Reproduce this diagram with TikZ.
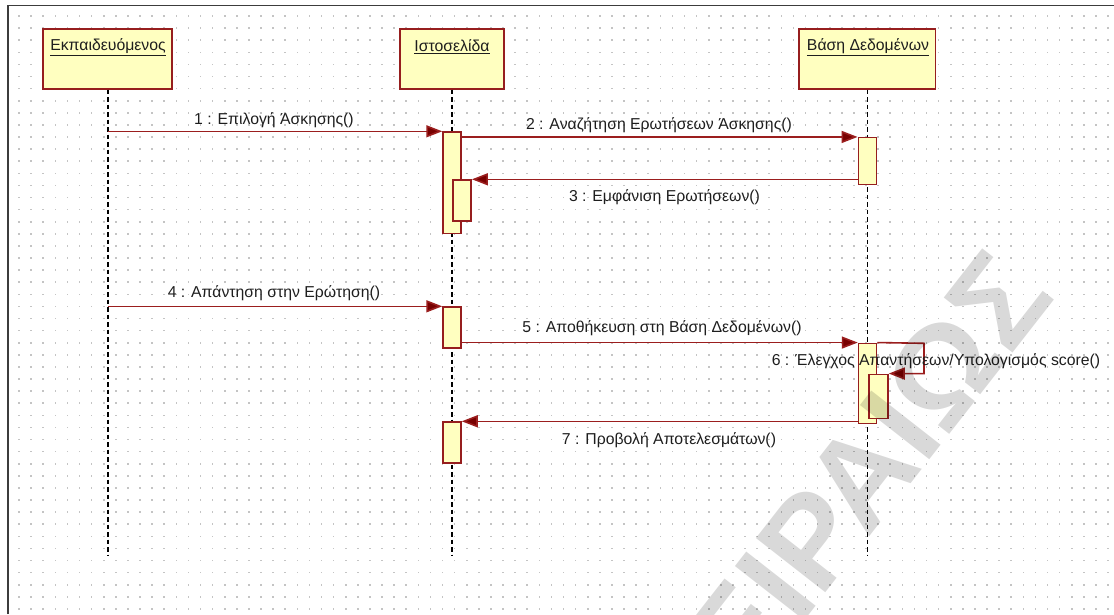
\documentclass[tikz,border=0pt]{standalone}
\usepackage{fontspec}
\setmainfont{Liberation Sans}
\usetikzlibrary{arrows.meta}
\definecolor{boxfill}{RGB}{255,255,192}
\definecolor{boxline}{RGB}{150,30,30}
\definecolor{msgline}{RGB}{155,30,30}
\definecolor{tipcol}{RGB}{120,0,0}
\definecolor{dotcol}{RGB}{196,196,196}
\definecolor{txt}{RGB}{30,30,30}
\definecolor{framecol}{RGB}{60,60,60}
\begin{document}
\begin{tikzpicture}[x=1pt,y=-1pt,
 header/.style={draw=boxline, fill=boxfill, line width=1.7pt, minimum height=59.7pt, inner sep=0pt},
 act/.style={draw=boxline, fill=boxfill, line width=1.5pt, minimum width=18pt, inner sep=0pt},
 lifeline/.style={black, line width=1.3pt, dash pattern=on 4.5pt off 3pt},
 msg/.style={draw=msgline, line width=1.6pt, -{Triangle[length=16pt,width=12pt,fill=tipcol]}},
 lbl/.style={font=\fontsize{15.8}{18}\selectfont, text=txt, inner sep=0pt},
]
\useasboundingbox (0,0) rectangle (1114,614);
\fill[white] (0,0) rectangle (1114,614);
% dot grid
\foreach \i in {0,...,90}{
  \foreach \j in {0,...,49}{
    \fill[dotcol] (18.2+12.1*\i,15.2+12.1*\j) rectangle ++(1.6,1.6);
  }
}
% frame
\draw[framecol, line width=1.8pt] (8,614) -- (8,5.5) -- (1114,5.5);

% header boxes
\node[header, minimum width=129pt] (boxE) at (107.5,58.9) {};
\node[header, minimum width=103.6pt] (boxI) at (452,58.9) {};
\node[header, minimum width=136.3pt] (boxB) at (867.2,58.9) {};
\node[lbl] (tE) at (108,47) {\underline{Εκπαιδευόμενος}};
\node[lbl] (tI) at (452,47) {\underline{Ιστοσελίδα}};
\node[lbl] (tB) at (868,47) {\underline{Βάση Δεδομένων}};

% lifelines
\coordinate (lE) at (108,555);
\coordinate (lI) at (452,555);
\coordinate (lB) at (867.5,555);
\draw[lifeline] (boxE.south -| lE) -- (lE);
\draw[lifeline] (boxI.south -| lI) -- (lI);
\draw[lifeline] (boxB.south -| lB) -- (lB);

% activations
\node[act, minimum height=101.3pt] (A1) at (452,182.7) {};
\node[act, minimum height=40.7pt] (A1b) at (462.2,200.4) {};
\node[act, minimum height=46.6pt] (D1) at (867.3,161) {};
\node[act, minimum height=40.7pt] (A2) at (452,327.4) {};
\node[act, minimum height=80pt] (D2) at (867.5,383.3) {};
\node[act, minimum height=44pt, minimum width=19pt] (D2b) at (878.5,396.3) {};
\node[act, minimum height=40.7pt] (A3) at (452,442.4) {};

% messages
\draw[msg] (lE |- A1.north) -- (A1.north west);
\draw[msg] (A1.east |- D1.north) -- (D1.north west);
\draw[msg] (D1.west |- A1b.north) -- (A1b.north east);
\draw[msg] (lE |- A2.north) -- (A2.north west);
\draw[msg] (A2.east |- D2.north) -- (D2.north west);
\coordinate (c6) at (924,343.3);
\draw[msg] (D2.north east) -- (c6) |- (D2b.north east);
\draw[msg] (D2.west |- A3.north) -- (A3.north east);

% labels
\node[lbl] (m1) at (274,120) {1 : Επιλογή Άσκησης()};
\node[lbl] (m2) at (659,125) {2 : Αναζήτηση Ερωτήσεων Άσκησης()};
\node[lbl] (m3) at (664.5,197.3) {3 : Εμφάνιση Ερωτήσεων()};
\node[lbl] (m4) at (274,293.5) {4 : Απάντηση στην Ερώτηση()};
\node[lbl] (m5) at (662,328) {5 : Αποθήκευση στη Βάση Δεδομένων()};
\node[lbl] (m6) at (936,361) {6 : Έλεγχος Απαντήσεων/Υπολογισμός score()};
\node[lbl] (m7) at (669,440) {7 : Προβολή Αποτελεσμάτων()};

% watermark
\node[rotate=52, font=\fontsize{128}{128}\selectfont\bfseries, text=black, text opacity=0.15, inner sep=0pt] (wm) at (838,505) {ΠΕΙΡΑΙΩΣ};
\end{tikzpicture}
\end{document}
